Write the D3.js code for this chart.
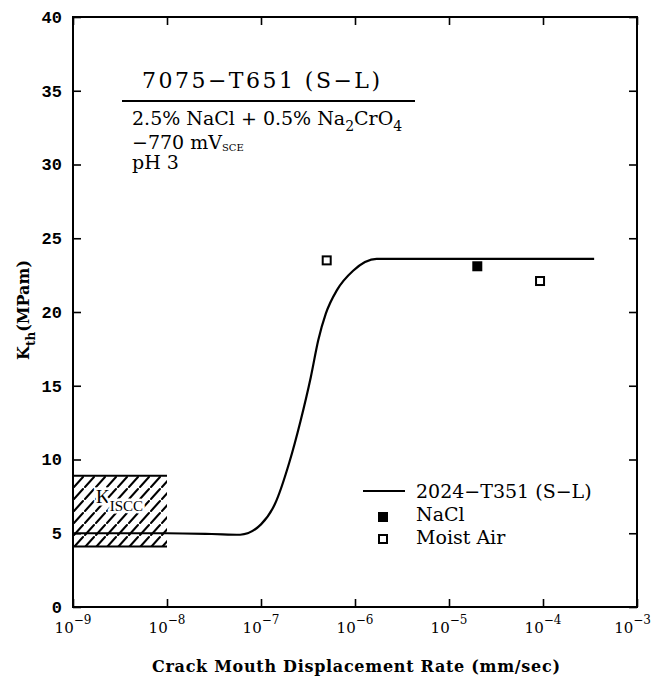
<!DOCTYPE html>
<html>
<head>
<meta charset="utf-8">
<script src="https://cdn.jsdelivr.net/npm/d3@7/dist/d3.min.js"></script>
<style>
  html, body { margin: 0; padding: 0; background: #fff; }
  svg { display: block; }
  .serif { font-family: "DejaVu Serif", "Liberation Serif", serif; }
</style>
</head>
<body>
<div id="chart"></div>
<script>
// ---------------- data ----------------
const xTickValues = [1e-9, 1e-8, 1e-7, 1e-6, 1e-5, 1e-4, 1e-3];
const xTickExponents = ["−9", "−8", "−7", "−6", "−5", "−4", "−3"];
const yTickValues = [0, 5, 10, 15, 20, 25, 30, 35, 40];

// 2024-T351 (S-L) reference curve
const curveRate = [1e-9, 1e-8, 3e-8, 6e-8, 1.0e-7, 1.41e-7, 2.0e-7, 2.63e-7, 3.39e-7, 4.07e-7, 4.9e-7, 6.45e-7, 9.55e-7, 1.7e-6, 3.5e-4];
const curveK    = [5.0,  5.0,  4.95, 4.9,  5.6,    7.0,     9.8,    12.6,    15.6,    18.1,    19.9,   21.5,    22.8,    23.6,   23.6];

// 7075-T651 data
const naclRate = [2e-5];
const naclK = [23.1];
const moistRate = [5e-7, 9.3e-5];
const moistK = [23.5, 22.1];

// KISCC band
const kisccRate = [1e-9, 1e-8];
const kisccK = [4.1, 8.9];

// ---------------- chart ----------------
const W = 653, H = 680;
const svg = d3.select("#chart").append("svg").attr("width", W).attr("height", H);

const x = d3.scaleLog().domain([1e-9, 1e-3]).range([73, 637]);
const y = d3.scaleLinear().domain([0, 40]).range([607, 17]);

// hatch pattern (broken diagonals)
const defs = svg.append("defs");
const pat = defs.append("pattern").attr("id", "hatch").attr("patternUnits", "userSpaceOnUse")
  .attr("width", 11).attr("height", 12).attr("x", 73).attr("y", 476);
pat.append("path").attr("d", "M1,11 L10,1")
  .attr("stroke", "#000").attr("stroke-width", 2).attr("stroke-linecap", "round");

// KISCC band
svg.append("rect")
  .attr("x", x(kisccRate[0])).attr("width", x(kisccRate[1]) - x(kisccRate[0]))
  .attr("y", y(kisccK[1])).attr("height", y(kisccK[0]) - y(kisccK[1]))
  .attr("fill", "url(#hatch)");
kisccK.forEach(k => {
  svg.append("line")
    .attr("x1", x(kisccRate[0])).attr("x2", x(kisccRate[1]))
    .attr("y1", y(k)).attr("y2", y(k))
    .attr("stroke", "#000").attr("stroke-width", 2);
});
const kl = svg.append("text").attr("x", 96).attr("y", 503)
  .attr("font-family", "Liberation Serif, serif").attr("font-size", 19)
  .attr("stroke", "#fff").attr("stroke-width", 5).attr("paint-order", "stroke");
kl.append("tspan").text("K");
kl.append("tspan").attr("dy", 8).attr("font-size", 15).text("ISCC");

// curve
const curveData = curveRate.map((r, i) => [r, curveK[i]]);
svg.append("path").datum(curveData)
  .attr("fill", "none").attr("stroke", "#000").attr("stroke-width", 2.2)
  .attr("d", d3.line().x(d => x(d[0])).y(d => y(d[1])).curve(d3.curveMonotoneX));

// data points
svg.selectAll("rect.nacl").data(naclRate.map((r, i) => [r, naclK[i]])).enter()
  .append("rect").attr("class", "nacl")
  .attr("x", d => x(d[0]) - 5).attr("y", d => y(d[1]) - 5)
  .attr("width", 10).attr("height", 10).attr("fill", "#000");
svg.selectAll("rect.moist").data(moistRate.map((r, i) => [r, moistK[i]])).enter()
  .append("rect").attr("class", "moist")
  .attr("x", d => x(d[0]) - 4).attr("y", d => y(d[1]) - 4)
  .attr("width", 8).attr("height", 8).attr("fill", "#fff").attr("stroke", "#000").attr("stroke-width", 2);

// axes (inward ticks)
const gB = svg.append("g").attr("transform", `translate(0,${y(0)})`)
  .call(d3.axisBottom(x).tickValues(xTickValues).tickSize(-8).tickFormat(""));
const gT = svg.append("g").attr("transform", `translate(0,${y(40)})`)
  .call(d3.axisTop(x).tickValues(xTickValues).tickSize(-8).tickFormat(""));
const gL = svg.append("g").attr("transform", `translate(${x(1e-9)},0)`)
  .call(d3.axisLeft(y).tickValues(yTickValues).tickSize(-8).tickPadding(11).tickFormat(d3.format("d")));
const gR = svg.append("g").attr("transform", `translate(${x(1e-3)},0)`)
  .call(d3.axisRight(y).tickValues(yTickValues).tickSize(-8).tickFormat(""));
[gB, gT, gL, gR].forEach(g => {
  g.select(".domain").remove();
  g.selectAll(".tick line").attr("stroke", "#000").attr("stroke-width", 1.6);
});
gL.selectAll(".tick text")
  .attr("font-family", "Liberation Mono, monospace").attr("font-weight", "bold")
  .attr("font-size", 17).attr("fill", "#000");

// frame
svg.append("rect")
  .attr("x", x(1e-9)).attr("y", y(40))
  .attr("width", x(1e-3) - x(1e-9)).attr("height", y(0) - y(40))
  .attr("fill", "none").attr("stroke", "#000").attr("stroke-width", 2);

// x tick labels with superscripts (last one kept inside the page edge)
xTickValues.forEach((v, i) => {
  const last = i === xTickValues.length - 1;
  const t = svg.append("text").attr("class", "serif")
    .attr("x", last ? W - 2 : x(v)).attr("y", 633).attr("text-anchor", last ? "end" : "middle")
    .attr("font-size", 15).attr("fill", "#000");
  t.append("tspan").text("10");
  t.append("tspan").attr("dy", -9).attr("font-size", 12).text(xTickExponents[i]);
});

// x axis title
svg.append("text").attr("class", "serif")
  .attr("x", 356).attr("y", 672).attr("text-anchor", "middle")
  .attr("font-size", 16).attr("font-weight", "bold").attr("fill", "#000")
  .attr("textLength", 408).attr("lengthAdjust", "spacing")
  .text("Crack Mouth Displacement Rate (mm/sec)");

// y axis title
const yt = svg.append("text").attr("class", "serif")
  .attr("transform", "translate(29,310) rotate(-90)")
  .attr("text-anchor", "middle").attr("font-size", 16).attr("font-weight", "bold").attr("fill", "#000");
yt.append("tspan").text("K");
yt.append("tspan").attr("dy", 6).attr("font-size", 12).text("th");
yt.append("tspan").attr("dy", -6).text("(MPam)");

// annotation block
svg.append("text").attr("class", "serif")
  .attr("x", 142).attr("y", 88).attr("font-size", 22).attr("fill", "#000")
  .attr("textLength", 238).attr("lengthAdjust", "spacing")
  .text("7075−T651 (S−L)");
svg.append("line").attr("x1", 122).attr("x2", 415).attr("y1", 101).attr("y2", 101)
  .attr("stroke", "#000").attr("stroke-width", 2);

const s1 = svg.append("text").attr("class", "serif")
  .attr("x", 132).attr("y", 125).attr("font-size", 19).attr("fill", "#000");
s1.append("tspan").text("2.5% NaCl + 0.5% Na");
s1.append("tspan").attr("dy", 6).attr("font-size", 14).text("2");
s1.append("tspan").attr("dy", -6).text("CrO");
s1.append("tspan").attr("dy", 6).attr("font-size", 14).text("4");

const s2 = svg.append("text").attr("class", "serif")
  .attr("x", 132).attr("y", 149).attr("font-size", 19).attr("fill", "#000");
s2.append("tspan").text("−770 mV");
s2.append("tspan").attr("dy", 2).attr("font-size", 10).text("SCE");

svg.append("text").attr("class", "serif")
  .attr("x", 132).attr("y", 169).attr("font-size", 19).attr("fill", "#000")
  .text("pH 3");

// legend
const lg = svg.append("g");
lg.append("line").attr("x1", 363).attr("x2", 405).attr("y1", 491).attr("y2", 491)
  .attr("stroke", "#000").attr("stroke-width", 2.2);
lg.append("rect").attr("x", 378).attr("y", 512).attr("width", 10).attr("height", 10).attr("fill", "#000");
lg.append("rect").attr("x", 379).attr("y", 535).attr("width", 8).attr("height", 8)
  .attr("fill", "#fff").attr("stroke", "#000").attr("stroke-width", 2);
const legendLabels = ["2024−T351 (S−L)", "NaCl", "Moist Air"];
const legendY = [498, 521, 544];
legendLabels.forEach((s, i) => {
  lg.append("text").attr("class", "serif")
    .attr("x", 416).attr("y", legendY[i]).attr("font-size", 19).attr("fill", "#000")
    .text(s);
});
</script>
</body>
</html>
